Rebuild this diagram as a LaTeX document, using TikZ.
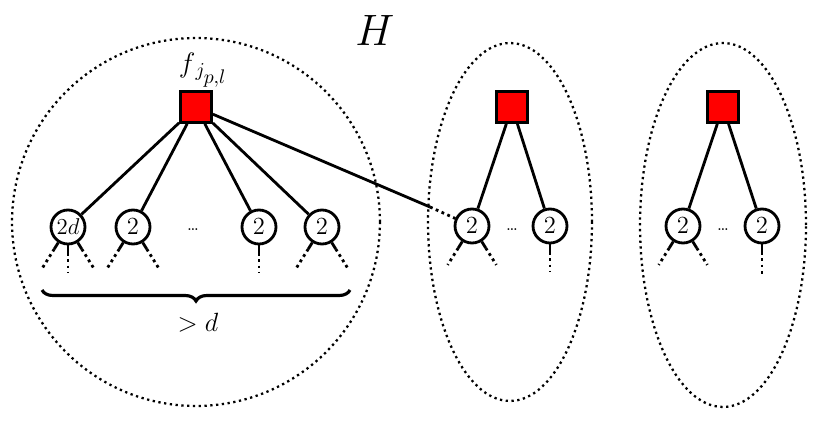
\RequirePackage{fix-cm}
\documentclass[tikz,border=0pt]{standalone}
\usepackage{amsmath, amssymb}
\usepackage{tikz}
\usetikzlibrary{shapes.geometric, decorations.pathreplacing, calc}

\begin{document}
\begin{tikzpicture}[x=0.02cm, y=-0.02cm,
    edge/.style={line width=1.6pt},
    leg/.style={line width=1.6pt, dotted},
    hull/.style={line width=1.3pt, dotted},
    factor/.style={rectangle, draw, line width=1.6pt, fill=red, minimum size=0.62cm, inner sep=0pt},
    var/.style={circle, draw, line width=1.6pt, fill=white, minimum size=0.68cm, inner sep=0pt, font=\fontsize{14}{16}\selectfont},
]
\useasboundingbox (0,0) rectangle (817,425);

% Hulls
\draw[hull] (196,222) circle [radius=3.68cm];
\draw[hull] (510,222) ellipse [x radius=1.64cm, y radius=3.58cm];
\draw[hull] (723,225) ellipse [x radius=1.66cm, y radius=3.64cm];
\node[font=\fontsize{25}{30}\selectfont] (h) at (375,30) {$H$};

% --- First component ---
\node[factor] (f1) at (196,107) {};
\node[font=\fontsize{16}{19}\selectfont] (lf) at (203,70) {$f_{\,j_{\scriptstyle p,l}}$};
\node[var, font=\fontsize{13}{15}\selectfont] (a1) at (68,227) {$2d$};
\node[var] (a2) at (133,227) {$2$};
\node (ad) at (193,230) {\ldots};
\node[var] (a3) at (259,227) {$2$};
\node[var] (a4) at (322,227) {$2$};

\draw[edge] (f1) -- (a1);
\draw[edge] (f1) -- (a2);
\draw[edge] (f1) -- (a3);
\draw[edge] (f1) -- (a4);

\draw[edge] (a1.-122) -- ++(-122:0.15cm) edge[leg] ++(-122:0.45cm);
\draw[edge] (a1.-90) -- ++(-90:0.15cm) edge[leg] ++(-90:0.4cm);
\draw[edge] (a1.-58) -- ++(-58:0.15cm) edge[leg] ++(-58:0.45cm);
\draw[edge] (a2.-122) -- ++(-122:0.15cm) edge[leg] ++(-122:0.45cm);
\draw[edge] (a2.-58) -- ++(-58:0.15cm) edge[leg] ++(-58:0.45cm);
\draw[edge] (a3.-90) -- ++(-90:0.15cm) edge[leg] ++(-90:0.4cm);
\draw[edge] (a4.-122) -- ++(-122:0.15cm) edge[leg] ++(-122:0.45cm);
\draw[edge] (a4.-58) -- ++(-58:0.15cm) edge[leg] ++(-58:0.45cm);

\draw[line width=1.8pt, decorate, decoration={brace, mirror, amplitude=0.22cm}] (42,290) -- (350,290);
\node[font=\fontsize{15}{18}\selectfont] (gd) at (198,323) {$>d$};

% --- Second component ---
\node[factor] (f2) at (512,107) {};
\node[var] (b1) at (472,226) {$2$};
\node (bd) at (512,230) {\ldots};
\node[var] (b2) at (550,226) {$2$};
\draw[edge] (f2) -- (b1);
\draw[edge] (f2) -- (b2);
\draw[edge] (b1.-122) -- ++(-122:0.15cm) edge[leg] ++(-122:0.4cm);
\draw[edge] (b1.-58) -- ++(-58:0.15cm) edge[leg] ++(-58:0.4cm);
\draw[edge] (b2.-90) -- ++(-90:0.15cm) edge[leg] ++(-90:0.4cm);

% link between components
\coordinate (l1) at (430,207);
\draw[edge] (f1) -- (l1);
\draw[leg] (l1) -- (b1);

% --- Third component ---
\node[factor] (f3) at (723,107) {};
\node[var] (c1) at (683,226) {$2$};
\node (cd) at (723,230) {\ldots};
\node[var] (c2) at (762,226) {$2$};
\draw[edge] (f3) -- (c1);
\draw[edge] (f3) -- (c2);
\draw[edge] (c1.-122) -- ++(-122:0.15cm) edge[leg] ++(-122:0.4cm);
\draw[edge] (c1.-58) -- ++(-58:0.15cm) edge[leg] ++(-58:0.4cm);
\draw[edge] (c2.-90) -- ++(-90:0.15cm) edge[leg] ++(-90:0.45cm);

\end{tikzpicture}
\end{document}
